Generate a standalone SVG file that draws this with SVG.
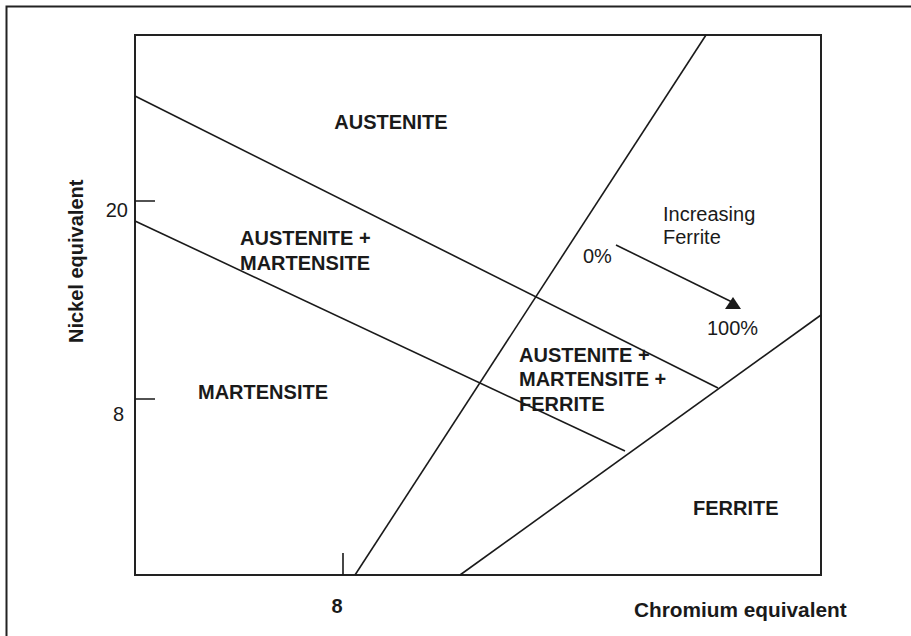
<svg xmlns="http://www.w3.org/2000/svg" width="911" height="636" viewBox="0 0 911 636">
<style>
.ln{stroke:#1a1a1a;stroke-width:1.6;fill:none}
.fr{stroke:#222;stroke-width:2;fill:none}
.b{font-family:"Liberation Sans",Arial,sans-serif;font-weight:bold;font-size:20px;fill:#1a1a1a}
.r{font-family:"Liberation Sans",Arial,sans-serif;font-size:20px;fill:#1a1a1a}
</style>
<rect width="911" height="636" fill="#fff"/>
<path class="fr" d="M6.5,636 V6.5 H911"/>
<g id="axes">
<rect class="fr" x="135" y="35" width="686" height="540"/>
<path class="ln" d="M135,201 H155 M135,399 H155 M343,553 V575"/>
<text class="r" x="128" y="217" text-anchor="end">20</text>
<text class="r" x="124" y="421" text-anchor="end">8</text>
<text class="b" x="337" y="613" text-anchor="middle">8</text>
<text class="b" x="634" y="617" style="font-size:20.8px">Chromium equivalent</text>
<text class="b" transform="translate(83,343) rotate(-90)">Nickel equivalent</text>
</g>
<g id="connectors">
<line class="ln" x1="135" y1="96" x2="718" y2="388"/>
<line class="ln" x1="135" y1="221" x2="625" y2="451"/>
<line class="ln" x1="706" y1="35" x2="355" y2="575"/>
<line class="ln" x1="460" y1="575" x2="821" y2="315"/>
<line class="ln" x1="616" y1="245" x2="734" y2="303"/>
<polygon points="725,309 741,309 733,297" fill="#1a1a1a"/>
</g>
<g id="austenite"><text class="b" x="391" y="129" text-anchor="middle">AUSTENITE</text></g>
<g id="austenite-martensite"><text class="b" x="240" y="245">AUSTENITE +</text><text class="b" x="240" y="270">MARTENSITE</text></g>
<g id="martensite"><text class="b" x="198" y="399">MARTENSITE</text></g>
<g id="austenite-martensite-ferrite"><text class="b" x="519" y="362">AUSTENITE +</text><text class="b" x="519" y="386">MARTENSITE +</text><text class="b" x="519" y="411">FERRITE</text></g>
<g id="ferrite"><text class="b" x="693" y="515">FERRITE</text></g>
<g id="increasing-ferrite">
<text class="r" x="663" y="221">Increasing</text>
<text class="r" x="663" y="244">Ferrite</text>
<text class="r" x="583" y="263">0%</text>
<text class="r" x="707" y="335">100%</text>
</g>
</svg>
